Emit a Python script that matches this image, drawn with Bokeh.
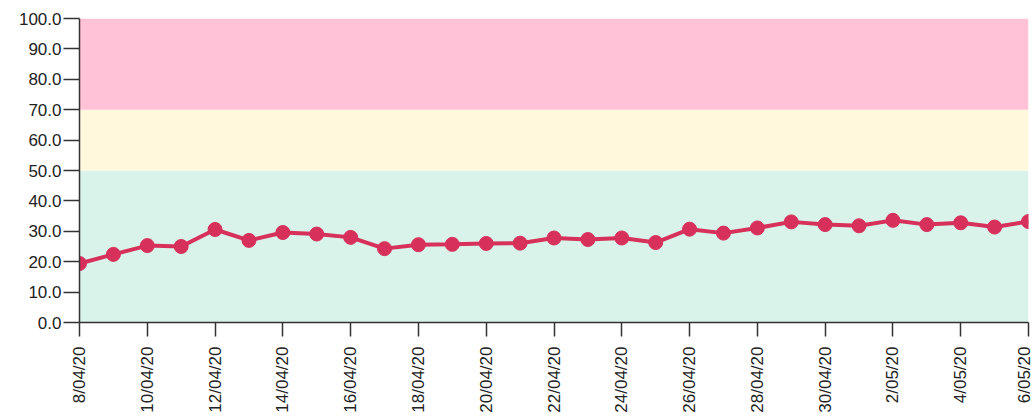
import math
from bokeh.plotting import figure
from bokeh.models import Range1d, FixedTicker, NumeralTickFormatter, ColumnDataSource
from bokeh.embed import file_html
from bokeh.resources import INLINE

dates = ["8/04/20", "9/04/20", "10/04/20", "11/04/20", "12/04/20", "13/04/20", "14/04/20",
         "15/04/20", "16/04/20", "17/04/20", "18/04/20", "19/04/20", "20/04/20", "21/04/20",
         "22/04/20", "23/04/20", "24/04/20", "25/04/20", "26/04/20", "27/04/20", "28/04/20",
         "29/04/20", "30/04/20", "1/05/20", "2/05/20", "3/05/20", "4/05/20", "5/05/20", "6/05/20"]
values = [19.4, 22.4, 25.3, 25.0, 30.6, 27.0, 29.6, 29.1, 28.0, 24.3, 25.6, 25.7, 26.0, 26.1,
          27.8, 27.3, 27.8, 26.3, 30.7, 29.4, 31.1, 33.1, 32.2, 31.8, 33.6, 32.2, 32.8, 31.4, 33.2]

band_bottoms = [0, 50, 70]
band_tops = [50, 70, 100]
band_colors = ["#d9f3ea", "#fff8dc", "#ffc2d6"]

y_ticks = list(range(0, 101, 10))

x = list(range(len(dates)))
tick_idx = x[::2]
tick_labels = {i: dates[i] for i in tick_idx}

p = figure(frame_width=949, frame_height=304, output_backend="svg", toolbar_location=None,
           x_range=Range1d(0, len(dates) - 1), y_range=Range1d(0, 100),
           min_border_left=79, min_border_top=18, min_border_bottom=98, min_border_right=5)
p.outline_line_color = None
p.xgrid.visible = False
p.ygrid.visible = False
p.background_fill_color = "white"
p.border_fill_color = "white"

band_src = ColumnDataSource(dict(bottom=band_bottoms, top=band_tops, color=band_colors,
                                 left=[0] * len(band_bottoms),
                                 right=[len(dates) - 1] * len(band_bottoms)))
p.quad(left="left", right="right", bottom="bottom", top="top", fill_color="color",
       line_color=None, source=band_src)

src = ColumnDataSource(dict(x=x, y=values))
p.line("x", "y", source=src, line_color="#d6305b", line_width=4)
p.scatter("x", "y", source=src, size=14, fill_color="#d6305b", line_color="#d6305b")

for ax in (p.xaxis[0], p.yaxis[0]):
    ax.axis_line_color = "#333333"
    ax.axis_line_width = 1.5
    ax.major_tick_line_color = "#333333"
    ax.major_tick_line_width = 1.5
    ax.minor_tick_line_color = None
    ax.major_tick_in = 0
    ax.major_label_text_font = "Liberation Sans"
    ax.major_label_text_font_size = "17px"
    ax.major_label_text_color = "#222222"

p.yaxis.ticker = FixedTicker(ticks=y_ticks)
p.yaxis.formatter = NumeralTickFormatter(format="0.0")
p.yaxis.major_tick_out = 16
p.yaxis.major_label_standoff = 2

p.xaxis.ticker = FixedTicker(ticks=tick_idx)
p.xaxis.major_label_overrides = tick_labels
p.xaxis.major_label_orientation = math.pi / 2
p.xaxis.major_tick_out = 14
p.xaxis.major_label_standoff = 10

open("out.html", "w").write(file_html(p, INLINE))
